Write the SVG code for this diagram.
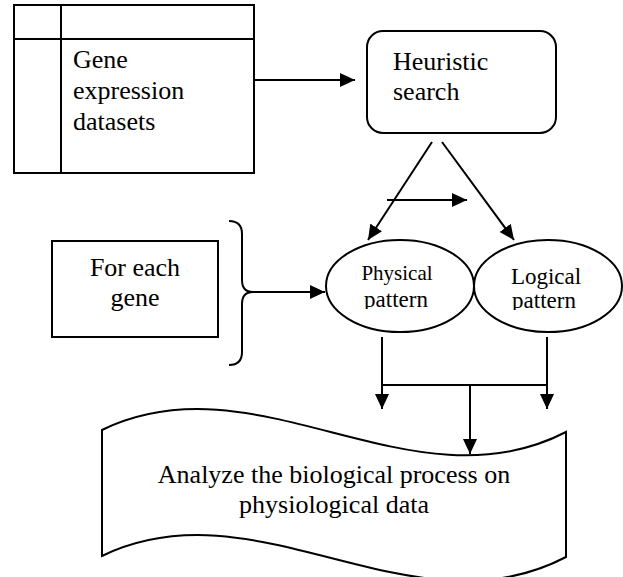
<svg xmlns="http://www.w3.org/2000/svg" width="623" height="577" viewBox="0 0 623 577" font-family="'Liberation Serif', 'Times New Roman', Times, serif">
<style>
.s{fill:none;stroke:#000;stroke-width:2}
.w{fill:#fff;stroke:#000;stroke-width:2}
text{font-family:'Liberation Serif','Times New Roman',Times,serif;fill:#000;font-size:26px}
.c{text-anchor:middle}
</style>
<defs>
<marker id="ah" viewBox="0 0 15 14" refX="15" refY="7" markerWidth="15" markerHeight="14" markerUnits="userSpaceOnUse" orient="auto">
<path d="M0,0 L15,7 L0,14 z" fill="#000"/>
</marker>
<clipPath id="cl1"><rect x="320" y="240" width="160" height="69"/></clipPath>
<clipPath id="cl2"><rect x="476" y="240" width="147" height="70"/></clipPath>
</defs>
<g id="datasets">
<rect class="w" x="14" y="5" width="240" height="168"/>
<line class="s" x1="61" y1="5" x2="61" y2="173"/>
<line class="s" x1="14" y1="39" x2="254" y2="39"/>
<text x="73" y="68">Gene</text>
<text x="73" y="99">expression</text>
<text x="73" y="130">datasets</text>
</g>
<g id="heuristic">
<rect class="w" x="367" y="31" width="189" height="102" rx="16"/>
<text x="393" y="70">Heuristic</text>
<text x="393" y="100">search</text>
</g>
<g id="foreach">
<rect class="w" x="52" y="241" width="166" height="96"/>
<text class="c" x="135" y="276">For each</text>
<text class="c" x="135" y="306">gene</text>
</g>
<g id="brace">
<path class="s" d="M229,221 Q242,221 242,234 L242,280 Q242,292 253,292 Q242,292 242,304 L242,352 Q242,365 229,365"/>
</g>
<g id="physical">
<ellipse class="w" cx="400" cy="286" rx="74" ry="46"/>
<g clip-path="url(#cl1)">
<text class="c" x="397" y="280" style="font-size:21px">Physical</text>
<text class="c" x="396" y="307" style="font-size:23px">pattern</text>
</g>
</g>
<g id="logical">
<ellipse class="w" cx="548" cy="286" rx="74" ry="46"/>
<g clip-path="url(#cl2)">
<text class="c" x="546" y="284" style="font-size:23px">Logical</text>
<text class="c" x="544" y="308" style="font-size:23px">pattern</text>
</g>
</g>
<g id="analyze">
<path class="w" d="M102,430 C257,355 411,512 566,432 L566,557 C411,638 257,481 102,556 Z"/>
<text class="c" x="334" y="483">Analyze the biological process on</text>
<text class="c" x="334" y="513">physiological data</text>
</g>
<g id="connectors">
<line class="s" x1="254" y1="80" x2="355" y2="80" marker-end="url(#ah)"/>
<line class="s" x1="432" y1="142" x2="368" y2="240" marker-end="url(#ah)"/>
<line class="s" x1="442" y1="142" x2="514" y2="240" marker-end="url(#ah)"/>
<line class="s" x1="387" y1="200" x2="467" y2="200" marker-end="url(#ah)"/>
<line class="s" x1="253" y1="292" x2="325" y2="292" marker-end="url(#ah)"/>
<line class="s" x1="382" y1="337" x2="382" y2="409" marker-end="url(#ah)"/>
<line class="s" x1="547" y1="337" x2="547" y2="409" marker-end="url(#ah)"/>
<line class="s" x1="381" y1="385" x2="548" y2="385"/>
<line class="s" x1="470" y1="385" x2="470" y2="454" marker-end="url(#ah)"/>
</g>
</svg>
